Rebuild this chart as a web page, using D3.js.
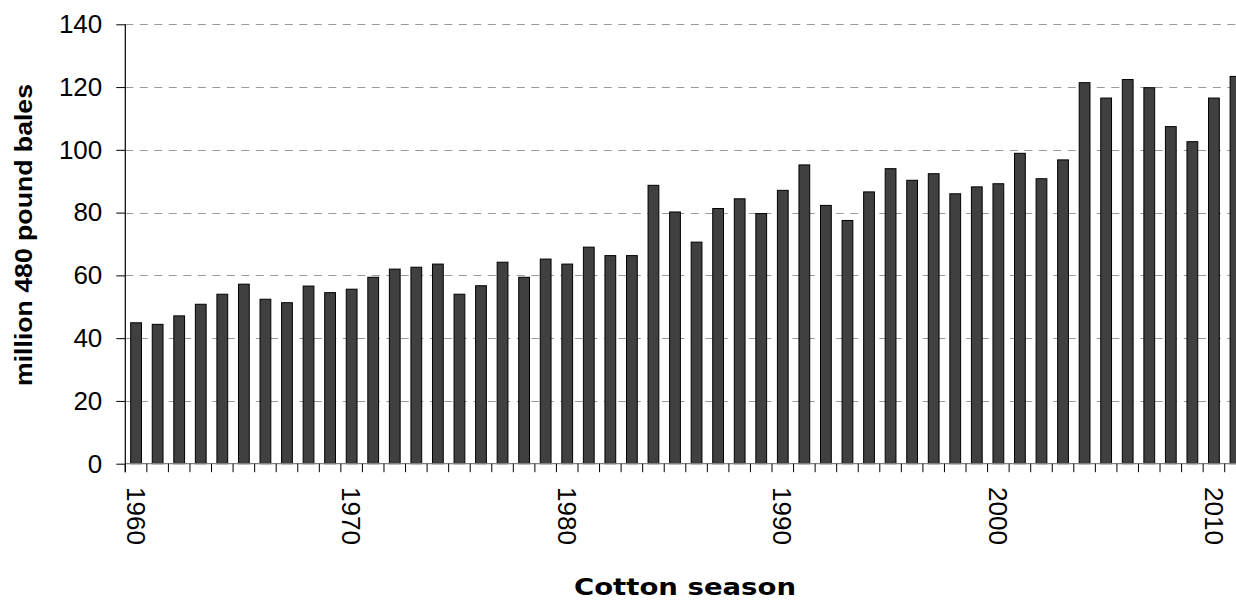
<!DOCTYPE html>
<html>
<head>
<meta charset="utf-8">
<script src="https://cdn.jsdelivr.net/npm/d3@7"></script>
<style>
  html, body { margin: 0; padding: 0; background: #fff; }
  svg { display: block; }
</style>
</head>
<body>
<svg id="chart" width="1236" height="601"></svg>
<script>
const years = [1960,1961,1962,1963,1964,1965,1966,1967,1968,1969,
               1970,1971,1972,1973,1974,1975,1976,1977,1978,1979,
               1980,1981,1982,1983,1984,1985,1986,1987,1988,1989,
               1990,1991,1992,1993,1994,1995,1996,1997,1998,1999,
               2000,2001,2002,2003,2004,2005,2006,2007,2008,2009,
               2010,2011];
const bales = [44.9,44.4,47.1,50.8,54.0,57.2,52.4,51.3,56.6,54.5,
               55.6,59.4,62.0,62.6,63.6,54.0,56.7,64.2,59.4,65.2,
               63.6,69.0,66.3,66.3,88.7,80.2,70.6,81.3,84.4,79.7,
               87.1,95.2,82.3,77.5,86.6,94.0,90.3,92.4,86.0,88.2,
               89.2,98.9,90.8,96.8,121.4,116.5,122.4,119.8,107.4,102.6,
               116.5,123.4];
const yTickValues = [0,20,40,60,80,100,120,140];
const xLabelYears = [1960,1970,1980,1990,2000,2010];
const yTitle = "million 480 pound bales";
const xTitle = "Cotton season";

const plotLeft = 125.3, plotTop = 24.3, plotBottom = 463.7;
const stepPx = 21.557;
const plotRight = plotLeft + years.length * stepPx;

const svg = d3.select("#chart");

const x = d3.scaleBand().domain(years).range([plotLeft, plotRight])
  .paddingInner(0.5).paddingOuter(0.25);
const y = d3.scaleLinear().domain([0, 140]).range([plotBottom, plotTop]);

// gridlines
svg.append("g").selectAll("line")
  .data(yTickValues.filter(v => v > 0))
  .join("line")
  .attr("x1", plotLeft).attr("x2", plotRight)
  .attr("y1", d => Math.round(y(d)) + 0.5).attr("y2", d => Math.round(y(d)) + 0.5)
  .attr("stroke", "#9a9a9a").attr("stroke-width", 1)
  .attr("stroke-dasharray", "8,6.5");

// bars
svg.append("g").selectAll("rect")
  .data(years)
  .join("rect")
  .attr("x", d => x(d))
  .attr("width", x.bandwidth())
  .attr("y", (d, i) => y(bales[i]))
  .attr("height", (d, i) => plotBottom - y(bales[i]))
  .attr("fill", "#404040")
  .attr("stroke", "#000")
  .attr("stroke-width", 1);

// x axis baseline
svg.append("line")
  .attr("x1", plotLeft).attr("x2", plotRight)
  .attr("y1", plotBottom).attr("y2", plotBottom)
  .attr("stroke", "#808080").attr("stroke-width", 1.2);

// x ticks at band boundaries
const boundaries = d3.range(years.length + 1);
svg.append("g").selectAll("line")
  .data(boundaries)
  .join("line")
  .attr("x1", i => plotLeft + i * x.step()).attr("x2", i => plotLeft + i * x.step())
  .attr("y1", plotBottom).attr("y2", plotBottom + 8.5)
  .attr("stroke", "#000").attr("stroke-width", 1);

// y axis
const yAxis = d3.axisLeft(y).tickValues(yTickValues).tickSize(9).tickSizeOuter(0).tickPadding(14);
const gy = svg.append("g").attr("transform", `translate(${plotLeft},0)`).call(yAxis);
gy.select(".domain").remove();
gy.selectAll(".tick line").attr("stroke", "#000");
gy.selectAll(".tick text")
  .attr("font-family", "'Liberation Sans', Arial, sans-serif")
  .attr("font-size", 26).attr("fill", "#000");
svg.append("line")
  .attr("x1", plotLeft).attr("x2", plotLeft)
  .attr("y1", plotTop).attr("y2", plotBottom + 8.5)
  .attr("stroke", "#000").attr("stroke-width", 1.2);

// x labels (rotated)
svg.append("g").selectAll("text")
  .data(xLabelYears)
  .join("text")
  .attr("transform", d => `translate(${x(d) + x.bandwidth() / 2},487) rotate(90)`)
  .attr("text-anchor", "start")
  .attr("dy", "0.36em")
  .attr("font-family", "'Liberation Sans', Arial, sans-serif")
  .attr("font-size", 26)
  .attr("fill", "#000")
  .text(d => d);

// y title
svg.append("text")
  .attr("transform", "translate(32,235) rotate(-90)")
  .attr("text-anchor", "middle")
  .attr("font-family", "'Liberation Sans', Arial, sans-serif")
  .attr("font-weight", "bold")
  .attr("font-size", 23)
  .attr("textLength", 302)
  .attr("lengthAdjust", "spacingAndGlyphs")
  .attr("x", 0).attr("y", 0)
  .text(yTitle);

// x title
svg.append("text")
  .attr("x", 685).attr("y", 595)
  .attr("text-anchor", "middle")
  .attr("font-family", "'DejaVu Sans', Verdana, sans-serif")
  .attr("font-weight", "bold")
  .attr("font-size", 23)
  .attr("textLength", 222)
  .attr("lengthAdjust", "spacingAndGlyphs")
  .text(xTitle);
</script>
</body>
</html>
